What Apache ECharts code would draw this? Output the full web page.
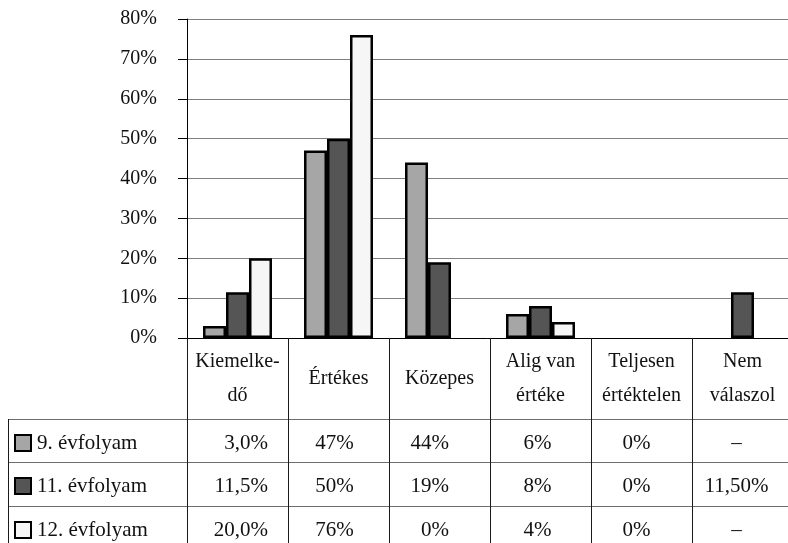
<!DOCTYPE html>
<html>
<head>
<meta charset="utf-8">
<script src="https://cdn.jsdelivr.net/npm/echarts@6/dist/echarts.min.js"></script>
<style>
  html, body { margin: 0; padding: 0; background: #fff; }
  #chart { width: 788px; height: 543px; }
</style>
</head>
<body>
<div id="chart"></div>
<script>
// Rating categories and per-grade shares (percent)
const categories = ['Kiemelke-\ndő', 'Értékes', 'Közepes', 'Alig van\nértéke', 'Teljesen\nértéktelen', 'Nem\nválaszol'];
const seriesNames = ['9. évfolyam', '11. évfolyam', '12. évfolyam'];
const grade9 = [3, 47, 44, 6, 0, null];
const grade11 = [11.5, 50, 19, 8, 0, 11.5];
const grade12 = [20, 76, 0, 4, 0, null];

// Data table cell texts, one row per grade
const table9 = ['3,0%', '47%', '44%', '6%', '0%', '–'];
const table11 = ['11,5%', '50%', '19%', '8%', '0%', '11,50%'];
const table12 = ['20,0%', '76%', '0%', '4%', '0%', '–'];

// Value axis
const yMin = 0, yMax = 80, yStep = 10;

const FONT = '"Liberation Serif", "Times New Roman", serif';
const colors = ['#a6a6a6', '#555555', '#f6f6f6'];
const seriesData = [grade9, grade11, grade12];
const tableRows = [table9, table11, table12];

const chart = echarts.init(document.getElementById('chart'), null, { renderer: 'canvas' });

// zero-height bars get no outline so they vanish into the axis
const toItems = arr => arr.map(v => (v === 0 ? { value: 0, itemStyle: { borderWidth: 0 } } : v));

const option = {
  animation: false,
  backgroundColor: '#ffffff',
  grid: { left: 187, top: 19, width: 606, height: 319, outerBoundsMode: 'none', containLabel: false },
  xAxis: {
    type: 'category',
    data: categories,
    boundaryGap: true,
    axisLine: { show: true, lineStyle: { color: '#000', width: 1 } },
    axisTick: { show: false },
    axisLabel: {
      interval: 0,
      margin: 41,
      verticalAlign: 'middle',
      lineHeight: 34,
      fontSize: 20,
      fontFamily: FONT,
      color: '#111'
    },
    splitLine: { show: false }
  },
  yAxis: {
    type: 'value',
    min: yMin,
    max: yMax,
    interval: yStep,
    axisLine: { show: true, lineStyle: { color: '#000', width: 1 } },
    axisTick: { show: true, length: 9, lineStyle: { color: '#000' } },
    axisLabel: {
      formatter: '{value}%',
      margin: 30,
      fontSize: 20,
      fontFamily: FONT,
      color: '#111'
    },
    splitLine: { show: true, lineStyle: { color: '#808080', width: 1 } }
  },
  series: seriesNames.map((name, i) => ({
    name: name,
    type: 'bar',
    data: toItems(seriesData[i]),
    barGap: '0%',
    barCategoryGap: '31.7%',
    itemStyle: { color: colors[i], borderColor: '#000', borderWidth: 2.5 }
  }))
};

chart.setOption(option);

// Data table under the plot, aligned to the category bands
const c0 = chart.convertToPixel({ xAxisIndex: 0 }, 0);
const c1 = chart.convertToPixel({ xAxisIndex: 0 }, 1);
const band = c1 - c0;
const yZero = chart.convertToPixel({ yAxisIndex: 0 }, 0);
const tableTop = yZero + 81;
const rowH = 43.3;
const tableBottom = tableTop + rowH * 3;
const leftEdge = 8;
const rightEdge = 788;

const g = [];
const hColor = '#6e6e6e';
const vColor = '#1a1a1a';

// horizontal rules
for (let r = 0; r <= 3; r++) {
  const y = Math.round(tableTop + r * rowH) + 0.5;
  g.push({ type: 'line', shape: { x1: leftEdge, y1: y, x2: rightEdge, y2: y }, style: { stroke: hColor, lineWidth: 1 }, z: 10 });
}
// vertical rules
g.push({ type: 'line', shape: { x1: leftEdge + 0.5, y1: tableTop, x2: leftEdge + 0.5, y2: tableBottom }, style: { stroke: vColor, lineWidth: 1 }, z: 10 });
for (let i = 0; i <= categories.length; i++) {
  const x = Math.round(c0 - band / 2 + i * band) + 0.5;
  g.push({ type: 'line', shape: { x1: x, y1: yZero, x2: x, y2: tableBottom }, style: { stroke: vColor, lineWidth: 1 }, z: 10 });
}

// per-column text placement inside each cell
const cellAlign = [
  { align: 'right', dx: band / 2 - 20 },
  { align: 'center', dx: -4 },
  { align: 'right', dx: band / 2 - 41 },
  { align: 'center', dx: -3 },
  { align: 'center', dx: -5 },
  { align: 'center', dx: -6 }
];

for (let r = 0; r < 3; r++) {
  const cy = tableTop + r * rowH + rowH / 2 + 3;
  // legend key
  g.push({
    type: 'rect',
    shape: { x: 15, y: Math.round(cy - 8.5), width: 16, height: 16 },
    style: { fill: colors[r], stroke: '#000', lineWidth: 2 },
    z: 11
  });
  g.push({
    type: 'text',
    x: 37, y: cy,
    style: { text: seriesNames[r], font: '21px ' + FONT, fill: '#111', align: 'left', verticalAlign: 'middle' },
    z: 11
  });
  for (let c = 0; c < categories.length; c++) {
    const cx = c0 + c * band + cellAlign[c].dx;
    g.push({
      type: 'text',
      x: cx, y: cy,
      style: { text: tableRows[r][c], font: '21px ' + FONT, fill: '#111', align: cellAlign[c].align, verticalAlign: 'middle' },
      z: 11
    });
  }
}

chart.setOption({ graphic: g });
</script>
</body>
</html>
